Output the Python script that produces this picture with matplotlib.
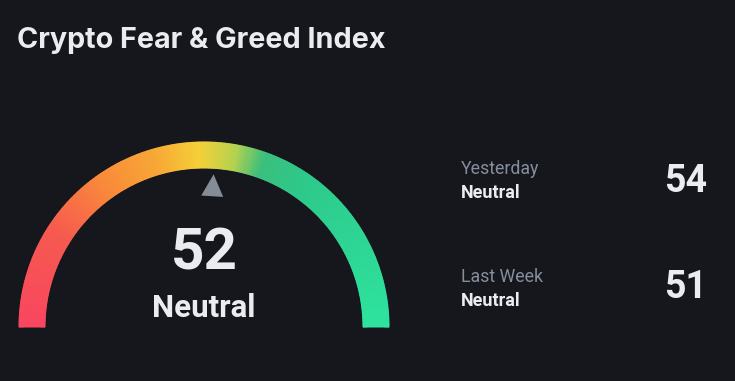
import numpy as np
import matplotlib
matplotlib.use("Agg")
import matplotlib.pyplot as plt
from matplotlib.colors import LinearSegmentedColormap
from matplotlib.patches import Polygon

# data
title = "Crypto Fear & Greed Index"
now_value = 52
now_label = "Neutral"
history_names = ["Yesterday", "Last Week"]
history_labels = ["Neutral", "Neutral"]
history_values = [54, 51]

# gradient stops along the gauge (0 = extreme fear, 1 = extreme greed)
stop_pos = [0.0, 0.18, 0.31, 0.41, 0.49, 0.555, 0.61, 0.69, 1.0]
stop_col = ["#f8465f", "#f75a50", "#f98c3a", "#f7a836", "#f6cf38",
            "#b8d24f", "#3cbf7e", "#2ec98b", "#2ee39e"]

BG = "#16171d"
WHITE = "#eaecef"
GRAY = "#848e9c"

W, H = 735, 381
fig = plt.figure(figsize=(W / 100, H / 100), dpi=100, facecolor=BG)
ax = fig.add_axes([0, 0, 1, 1])
ax.set_facecolor(BG)
ax.set_xlim(0, W)
ax.set_ylim(0, H)
ax.axis("off")

def img_y(y):
    return H - y

# gauge arc
cx, cy = 204, img_y(327)
r_in, r_out = 159, 185
cmap = LinearSegmentedColormap.from_list("fg", list(zip(stop_pos, stop_col)))
t = np.linspace(0, 1, 300)
theta = np.pi * (1 - t)
rr = np.array([r_in, r_out])
TH, RR = np.meshgrid(theta, rr)
X = cx + RR * np.cos(TH)
Y = cy + RR * np.sin(TH)
C = np.meshgrid(t, rr)[0]
ax.pcolormesh(X, Y, C, cmap=cmap, shading="gouraud", vmin=0, vmax=1)

# pointer
ang = np.pi * (1 - now_value / 100)
tip_r, base_r, half_w = 153, 131, 11
ux, uy = np.cos(ang), np.sin(ang)
px, py = -uy, ux
tip = (cx + tip_r * ux, cy + tip_r * uy)
b1 = (cx + base_r * ux + half_w * px, cy + base_r * uy + half_w * py)
b2 = (cx + base_r * ux - half_w * px, cy + base_r * uy - half_w * py)
ax.add_patch(Polygon([tip, b1, b2], closed=True, color="#868b98", lw=0))

# texts
ax.text(17, img_y(48), title, color=WHITE, fontsize=20.7, fontweight="bold",
        family="Inter", va="baseline", ha="left")
ax.text(cx, img_y(270), str(now_value), color=WHITE, fontsize=42,
        fontweight="bold", family="Roboto", va="baseline", ha="center")
ax.text(cx, img_y(317), now_label, color=WHITE, fontsize=22.5,
        fontweight="bold", family="Roboto", va="baseline", ha="center")

name_base = [174, 282]
label_base = [198, 306]
value_base = [192, 298]
for i in range(len(history_names)):
    ax.text(461, img_y(name_base[i]), history_names[i], color=GRAY,
            fontsize=12.8, family="Roboto", va="baseline", ha="left")
    ax.text(461, img_y(label_base[i]), history_labels[i], color=WHITE,
            fontsize=13, fontweight="bold", family="Roboto",
            va="baseline", ha="left")
    ax.text(664, img_y(value_base[i]), str(history_values[i]), color=WHITE,
            fontsize=27, fontweight="bold", family="Roboto",
            va="baseline", ha="left")

fig.savefig("out.png", dpi=100, facecolor=BG)
